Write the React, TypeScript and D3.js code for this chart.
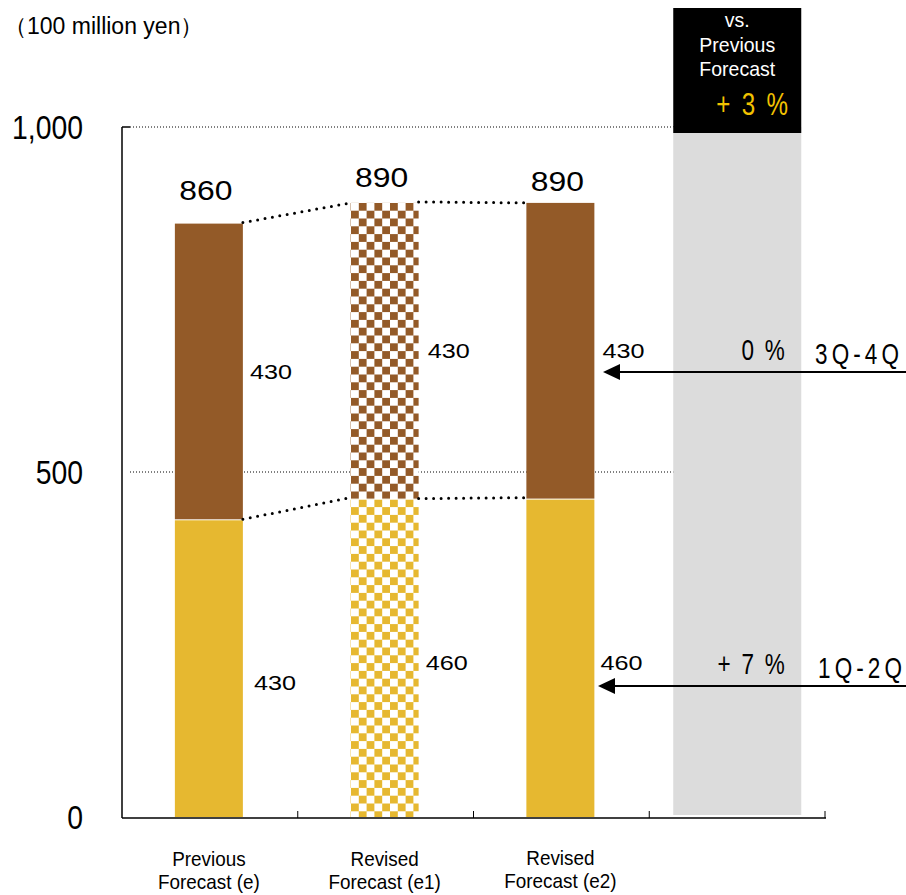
import React from "react";
import * as d3 from "d3";

const categories = ["Previous|Forecast (e)", "Revised|Forecast (e1)", "Revised|Forecast (e2)", "vs"];
const lowerValues = [430, 460, 460];
const upperValues = [430, 430, 430];
const totals = [860, 890, 890];
const checkered = [false, true, false];
const yTicks = [0, 500, 1000];
const yTickLabels = ["0", "500", "1,000"];
const changeLabels = ["+ 7 %", "0 %"];
const periodLabels = ["1Q-2Q", "3Q-4Q"];
const arrowValues = [190, 645];
const overallChange = "+ 3 %";
const boxLines = ["vs.", "Previous", "Forecast"];
const unitLabel = "（100 million yen）";

const W = 906, H = 895;
const BROWN = "#935A28";
const YELLOW = "#E6B830";
const GRAY = "#DCDCDC";
const FONT = "'Liberation Sans', Arial, sans-serif";

type TProps = {
  x: number; y: number; sx?: number; size: number; anchor?: "start" | "middle" | "end";
  fill?: string; ls?: number; children: React.ReactNode;
};
function T({ x, y, sx = 1, size, anchor = "start", fill = "#000", ls = 0, children }: TProps) {
  return (
    <text transform={`translate(${x},${y}) scale(${sx},1)`} fontSize={size} textAnchor={anchor} fill={fill} letterSpacing={ls}>
      {children}
    </text>
  );
}

export default function App() {
  const y = d3.scaleLinear().domain([0, 1000]).range([817, 127]);
  const x = d3.scaleBand<string>().domain(categories).range([122, 825]).padding(0);
  const bw = 68;
  const cx = (i: number) => (x(categories[i]) as number) + x.bandwidth() / 2 - 1;
  const cell = 7.8;
  const topLift = [24, 16, 12];
  const lowerDy = [14, 5, 5];
  const labelGap = [7, 9, 8];
  const grayX = (x(categories[3]) as number) + 24;
  const grayW = 128;

  return (
    <svg width={W} height={H} style={{ position: "absolute", left: 0, top: 0, background: "#fff" }} fontFamily={FONT}>
      <defs>
        {[["chkB", BROWN], ["chkY", YELLOW]].map(([id, c]) => (
          <pattern key={id} id={id} patternUnits="userSpaceOnUse" width={cell * 2} height={cell * 2} x={0} y={y(890)}>
            <rect width={cell * 2} height={cell * 2} fill="#fff" />
            <rect x={0} y={0} width={cell} height={cell} fill={c} />
            <rect x={cell} y={cell} width={cell} height={cell} fill={c} />
          </pattern>
        ))}
      </defs>

      {/* unit label */}
      <T x={4} y={34} size={23}>{unitLabel}</T>

      {/* gridlines */}
      {yTicks.filter((t) => t > 0).map((t) => (
        <line key={t} x1={130} x2={674} y1={y(t)} y2={y(t)} stroke="#000" strokeWidth={1} strokeDasharray="1,2" />
      ))}

      {/* gray column */}
      <rect x={grayX} y={y(1000)} width={grayW} height={y(0) - 2 - y(1000)} fill={GRAY} />
      <rect x={grayX} y={8} width={grayW} height={125} fill="#000" />
      {boxLines.map((l, i) => (
        <T key={l} x={grayX + grayW / 2} y={27 + i * 24.5} size={21} sx={0.93} anchor="middle" fill="#fff">{l}</T>
      ))}
      <T x={grayX + grayW / 2 + 16} y={115} size={31} sx={0.78} anchor="middle" fill="#F2C200" ls={3}>{overallChange}</T>

      {/* bars */}
      {lowerValues.map((lv, i) => {
        const uv = upperValues[i];
        const left = cx(i) - bw / 2;
        return (
          <g key={i}>
            <rect x={left} y={y(lv)} width={bw} height={y(0) - y(lv)} fill={checkered[i] ? "url(#chkY)" : YELLOW} />
            <rect x={left} y={y(lv + uv)} width={bw} height={y(lv) - y(lv + uv) - 1} fill={checkered[i] ? "url(#chkB)" : BROWN} />
            <T x={cx(i) - 3} y={y(totals[i]) - topLift[i]} size={27} sx={1.18} anchor="middle">{totals[i]}</T>
            <T x={left + bw + labelGap[i]} y={y(lv + uv / 2) + 7} size={21} sx={1.2}>{uv}</T>
            <T x={left + bw + labelGap[i] + (i === 0 ? 4 : -2)} y={y(lv / 2) + 7 + lowerDy[i]} size={21} sx={1.2}>{lv}</T>
          </g>
        );
      })}

      {/* dotted connectors */}
      {[0, 1].map((i) => {
        const x1 = cx(i) + bw / 2;
        const x2 = cx(i + 1) - bw / 2;
        return (
          <g key={i}>
            <line x1={x1} y1={y(totals[i]) - 1} x2={x2} y2={y(totals[i + 1])} stroke="#000" strokeWidth={3} strokeLinecap="round" strokeDasharray="0,7.5" />
            <line x1={x1} y1={y(lowerValues[i]) - 1} x2={x2} y2={y(lowerValues[i + 1]) - 2} stroke="#000" strokeWidth={3} strokeLinecap="round" strokeDasharray="0,7.5" />
          </g>
        );
      })}

      {/* axes */}
      <line x1={122} x2={122} y1={y(1000)} y2={y(0) + 1} stroke="#000" strokeWidth={1.5} />
      <line x1={122} x2={130} y1={y(1000)} y2={y(1000)} stroke="#000" strokeWidth={1.5} />
      <line x1={122} x2={826} y1={y(0) + 1} y2={y(0) + 1} stroke="#000" strokeWidth={1.5} />
      {categories.map((c) => (
        <line key={c} x1={(x(c) as number) + x.bandwidth()} x2={(x(c) as number) + x.bandwidth()} y1={y(0) + 1} y2={y(0) - 6} stroke="#000" strokeWidth={1} />
      ))}
      {yTicks.map((t, i) => (
        <T key={t} x={83} y={y(t) + 12} size={33} sx={0.86} anchor="end">{yTickLabels[i]}</T>
      ))}
      {categories.slice(0, 3).map((c, i) => {
        const [l1, l2] = c.split("|");
        return (
          <g key={c}>
            <T x={cx(i)} y={i === 2 ? 865 : 866} size={21} sx={0.9} anchor="middle">{l1}</T>
            <T x={cx(i)} y={i === 2 ? 888 : 889} size={21} sx={0.9} anchor="middle">{l2}</T>
          </g>
        );
      })}

      {/* arrows & change labels */}
      {arrowValues.map((v, i) => (
        <g key={i}>
          <line x1={906} x2={i === 0 ? 605 : 610} y1={y(v)} y2={y(v)} stroke="#000" strokeWidth={2} />
          <path d={`M${i === 0 ? 598 : 603},${y(v)} l17,-8 l0,16 Z`} fill="#000" />
          <T x={787} y={y(v) - 12} size={30} sx={0.75} anchor="end" ls={3}>{changeLabels[i]}</T>
          <T x={i === 0 ? 818 : 815} y={y(v) - 8} size={30} sx={0.75} ls={5.5}>{periodLabels[i]}</T>
        </g>
      ))}
    </svg>
  );
}
